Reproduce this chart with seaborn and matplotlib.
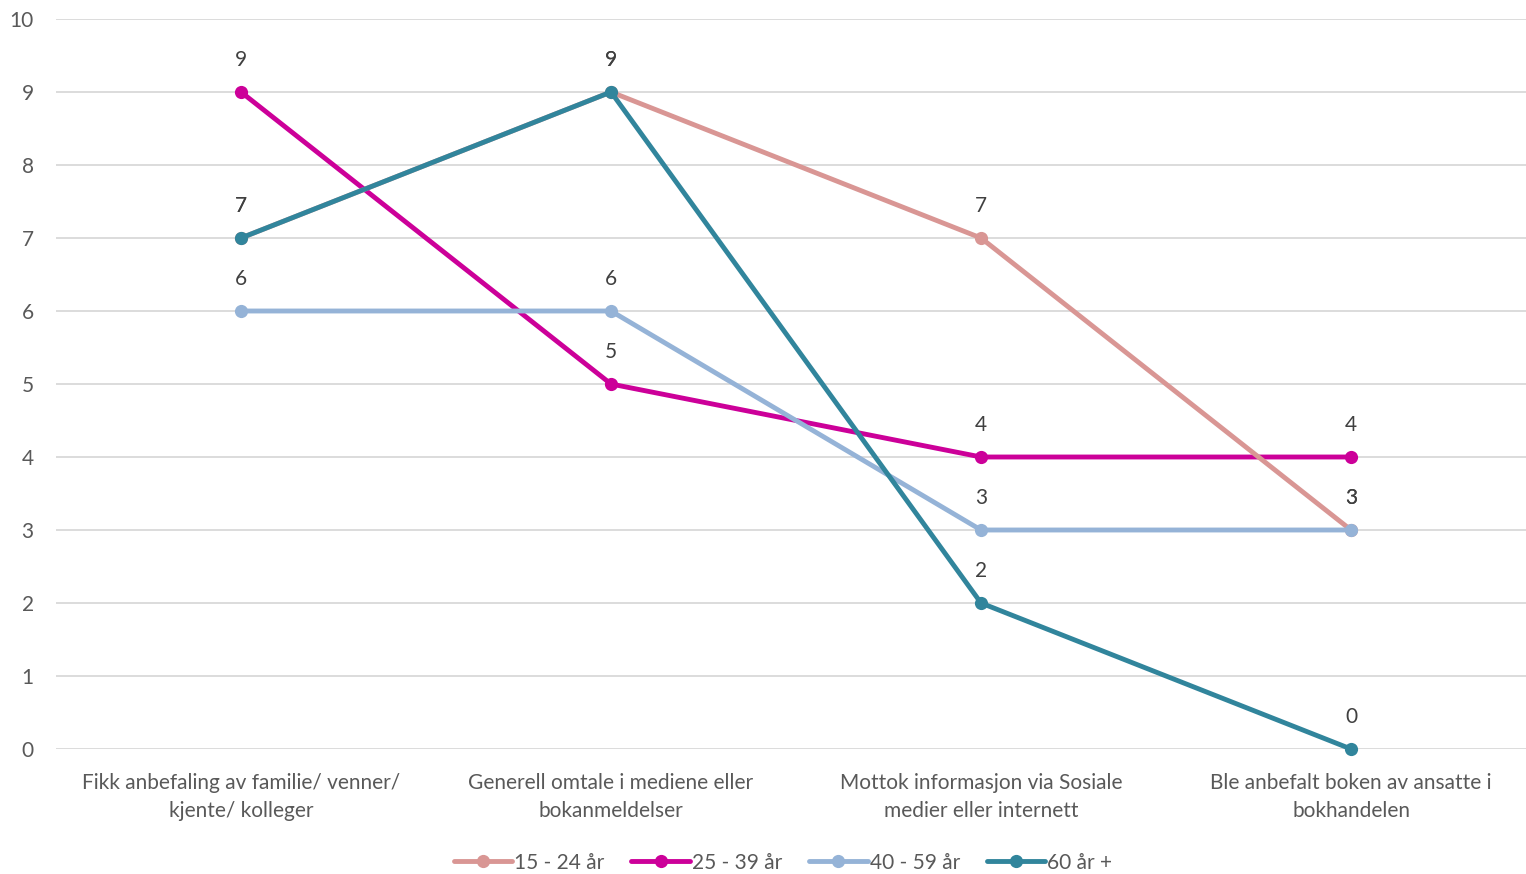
import matplotlib
matplotlib.use("Agg")
import matplotlib.pyplot as plt
import seaborn as sns
import pandas as pd

# data
categories = ["Fikk anbefaling av familie/ venner/\nkjente/ kolleger",
              "Generell omtale i mediene eller\nbokanmeldelser",
              "Mottok informasjon via Sosiale\nmedier eller internett",
              "Ble anbefalt boken av ansatte i\nbokhandelen"]
series_names = ["15 - 24 år", "25 - 39 år", "40 - 59 år", "60 år +"]
values_15_24 = [7, 9, 7, 3]
values_25_39 = [9, 5, 4, 4]
values_40_59 = [6, 6, 3, 3]
values_60 = [7, 9, 2, 0]
colors = ["#D99694", "#CC0099", "#95B3D7", "#31859C"]
yticks = list(range(0, 11))

all_values = [values_15_24, values_25_39, values_40_59, values_60]
rows = []
for name, vals in zip(series_names, all_values):
    for i, v in enumerate(vals):
        rows.append({"pos": i, "value": v, "series": name})
df = pd.DataFrame(rows)

sns.set_style("white")
plt.rcParams["font.family"] = ["Lato", "DejaVu Sans"]

fig = plt.figure(figsize=(15.26, 8.74), dpi=100)
ax = fig.add_axes([56 / 1526, 1 - 749 / 874, 1480 / 1526, 730 / 874])

zorders = {"15 - 24 år": 3, "25 - 39 år": 2, "40 - 59 år": 4, "60 år +": 5}
for name, col in zip(series_names, colors):
    sub = df[df["series"] == name]
    sns.lineplot(data=sub, x="pos", y="value", color=col, marker="o",
                 markersize=9.5, markeredgewidth=0, linewidth=3.5,
                 label=name, ax=ax, zorder=zorders[name], clip_on=False)
    # data labels above each point
    for x, y in zip(sub["pos"], sub["value"]):
        ax.annotate(str(y), (x, y), xytext=(0, 16), textcoords="offset points",
                    ha="center", va="bottom", fontsize=15, color="#404040",
                    zorder=6)

ax.set_xlim(-0.5, 3.5)
ax.set_ylim(0, 10)
ax.set_yticks(yticks)
ax.set_xticks(range(len(categories)))
ax.set_xticklabels(categories, fontsize=15, color="#595959", linespacing=1.55)
ax.tick_params(axis="y", labelsize=15, labelcolor="#595959", length=0, pad=16)
ax.tick_params(axis="x", length=0, pad=17)
ax.set_xlabel("")
ax.set_ylabel("")
ax.grid(axis="y", color="#D9D9D9", linewidth=1.3)
ax.set_axisbelow(True)
for s in ax.spines.values():
    s.set_visible(False)

ax.get_legend().remove()
handles, labels = ax.get_legend_handles_labels()
fig.legend(handles, labels, loc="lower center", bbox_to_anchor=(783 / 1526, -0.02),
           ncol=4, frameon=False, fontsize=15, handlelength=2.8,
           handletextpad=0.1, columnspacing=1.3, labelcolor="#595959")

fig.savefig("out.png", dpi=100)
